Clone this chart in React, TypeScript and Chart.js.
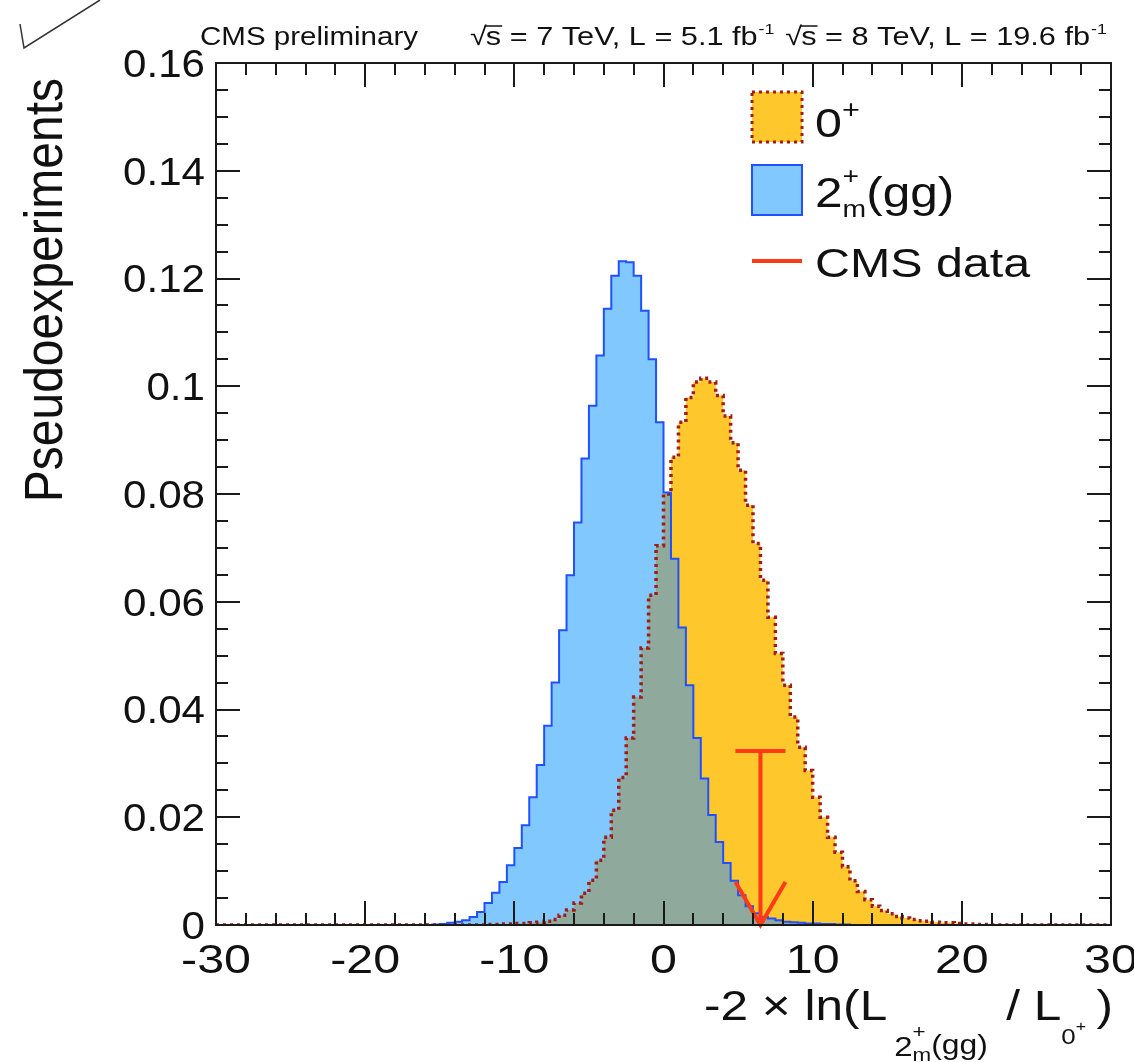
import React, { useEffect, useRef } from "react";
import { Chart, registerables } from "chart.js";

Chart.register(...registerables);

// ---------- data ----------
const X_MIN = -30;
const X_MAX = 30;
const BIN_WIDTH = 0.5; // 120 bins

// 2+m(gg) pseudo-experiment distribution (bin contents, bins from -30 in steps of 0.5)
const spin2Values = [
  0, 0, 0, 0, 0, 0, 0, 0, 0, 0,
  0, 0, 0, 0, 0, 0, 0, 0, 0, 0,
  0, 0, 0, 0, 0, 0, 0, 0, 0, 0.0001,
  0.0002, 0.0004, 0.0006, 0.0009, 0.0015, 0.0024, 0.0041, 0.006, 0.008, 0.0111,
  0.0143, 0.0185, 0.0237, 0.0297, 0.037, 0.045, 0.0547, 0.0649, 0.0747, 0.0866,
  0.0964, 0.1057, 0.1144, 0.1205, 0.1232, 0.123, 0.1205, 0.114, 0.105, 0.0933,
  0.0803, 0.068, 0.0552, 0.0445, 0.0347, 0.0272, 0.0204, 0.0154, 0.0115, 0.0082,
  0.0055, 0.0035, 0.0022, 0.0015, 0.0012, 0.0009, 0.0006, 0.0005, 0.0004, 0.0003,
  0.0003, 0.0002, 0.0002, 0.0001, 0.0001, 0, 0, 0, 0, 0,
  0, 0, 0, 0, 0, 0, 0, 0, 0, 0,
  0, 0, 0, 0, 0, 0, 0, 0, 0, 0,
  0, 0, 0, 0, 0, 0, 0, 0, 0, 0,
];

// 0+ pseudo-experiment distribution
const spin0Values = [
  0, 0, 0, 0, 0, 0, 0, 0, 0, 0,
  0, 0, 0, 0, 0, 0, 0, 0, 0, 0,
  0, 0, 0, 0, 0, 0, 0, 0, 0, 0,
  0, 0, 0, 0, 0, 0, 0.0001, 0.0001, 0.0002, 0.0002,
  0.0003, 0.0003, 0.0004, 0.0005, 0.0007, 0.001, 0.0018, 0.0028, 0.0041, 0.0059,
  0.0083, 0.012, 0.0163, 0.0213, 0.0274, 0.0347, 0.0423, 0.0514, 0.0612, 0.0704,
  0.08, 0.0868, 0.0933, 0.0979, 0.1008, 0.1015, 0.1008, 0.0983, 0.0945, 0.0895,
  0.0844, 0.0779, 0.0708, 0.064, 0.0571, 0.0504, 0.0445, 0.0386, 0.033, 0.0287,
  0.0237, 0.02, 0.0163, 0.0135, 0.0108, 0.0082, 0.0062, 0.0047, 0.0035, 0.0027,
  0.0021, 0.0016, 0.0013, 0.001, 0.0008, 0.0007, 0.0005, 0.0004, 0.0004, 0.0003,
  0.0002, 0.0002, 0.0001, 0.0001, 0, 0, 0, 0, 0, 0,
  0, 0, 0, 0, 0, 0, 0, 0, 0, 0,
];

// observed CMS data value and arrow height
const cmsDataX = [6.5];
const cmsArrowTop = [0.0323];

const xTickLabels = ["-30", "-20", "-10", "0", "10", "20", "30"];
const xTickValues = [-30, -20, -10, 0, 10, 20, 30];
const yTickLabels = ["0", "0.02", "0.04", "0.06", "0.08", "0.1", "0.12", "0.14", "0.16"];
const yTickValues = [0, 0.02, 0.04, 0.06, 0.08, 0.1, 0.12, 0.14, 0.16];
const X_MINOR_STEP = 2;
const Y_MINOR_STEP = 0.005;

const headerLeft = "CMS preliminary";
const headerRuns = [
  { e: "7", lumi: "5.1" },
  { e: "8", lumi: "19.6" },
];

// ---------- style ----------
const FONT = '"Liberation Sans", Arial, Helvetica, sans-serif';
const SX = 1.18;
const ORANGE_FILL = "rgb(254,199,44)";
const DOT_RED = "rgb(160,28,20)";
const BLUE_FILL = "rgb(128,200,253)";
const BLUE_LINE = "rgb(32,80,255)";
const OVERLAP_FILL = "rgb(143,170,156)";
const DATA_RED = "rgb(255,58,24)";
const AXIS = "#1a1a1a";

function histPoints(vals: number[]) {
  const pts = vals.map((v, i) => ({ x: X_MIN + i * BIN_WIDTH, y: v }));
  pts.push({ x: X_MAX, y: vals[vals.length - 1] });
  return pts;
}

function txt(
  ctx: CanvasRenderingContext2D,
  s: string,
  x: number,
  y: number,
  size: number,
  align: CanvasTextAlign = "left",
  baseline: CanvasTextBaseline = "alphabetic",
  sx: number = SX
) {
  ctx.save();
  ctx.translate(x, y);
  ctx.scale(sx, 1);
  ctx.font = `${size}px ${FONT}`;
  ctx.textAlign = align;
  ctx.textBaseline = baseline;
  ctx.fillText(s, 0, 0);
  const w = ctx.measureText(s).width * sx;
  ctx.restore();
  return w;
}

function measure(ctx: CanvasRenderingContext2D, s: string, size: number) {
  ctx.save();
  ctx.font = `${size}px ${FONT}`;
  const w = ctx.measureText(s).width * SX;
  ctx.restore();
  return w;
}

const decor = {
  id: "decor",
  afterDraw(chart: any) {
    const { ctx, chartArea: a, scales } = chart;
    const xs = scales.x;
    const ys = scales.y;
    ctx.save();

    // top-left stray stroke
    ctx.strokeStyle = "#333";
    ctx.lineWidth = 1.5;
    ctx.beginPath();
    ctx.moveTo(20, 24);
    ctx.lineTo(24, 48);
    ctx.lineTo(100, 0);
    ctx.stroke();

    // CMS data arrow
    const ax = xs.getPixelForValue(cmsDataX[0]);
    const aTop = ys.getPixelForValue(cmsArrowTop[0]);
    const aBot = ys.getPixelForValue(0);
    ctx.strokeStyle = DATA_RED;
    ctx.lineWidth = 4;
    ctx.beginPath();
    ctx.moveTo(ax - 25, aTop);
    ctx.lineTo(ax + 25, aTop);
    ctx.moveTo(ax, aTop);
    ctx.lineTo(ax, aBot);
    ctx.moveTo(ax - 25, aBot - 43);
    ctx.lineTo(ax, aBot);
    ctx.lineTo(ax + 25, aBot - 43);
    ctx.stroke();

    // frame
    ctx.strokeStyle = AXIS;
    ctx.lineWidth = 2;
    ctx.strokeRect(a.left, a.top, a.right - a.left, a.bottom - a.top);

    // ticks
    ctx.lineWidth = 2;
    ctx.beginPath();
    for (let v = X_MIN; v <= X_MAX + 1e-9; v += X_MINOR_STEP) {
      const px = Math.round(xs.getPixelForValue(v));
      const major = Math.abs(v % 10) < 1e-9;
      const len = major ? 24 : 12;
      ctx.moveTo(px, a.bottom);
      ctx.lineTo(px, a.bottom - len);
      ctx.moveTo(px, a.top);
      ctx.lineTo(px, a.top + len);
    }
    for (let i = 0; i <= 32; i++) {
      const v = i * Y_MINOR_STEP;
      const py = Math.round(ys.getPixelForValue(v));
      const major = i % 4 === 0;
      const len = major ? 24 : 12;
      ctx.moveTo(a.left, py);
      ctx.lineTo(a.left + len, py);
      ctx.moveTo(a.right, py);
      ctx.lineTo(a.right - len, py);
    }
    ctx.stroke();

    ctx.fillStyle = "#111";
    // tick labels
    xTickValues.forEach((v, i) => {
      txt(ctx, xTickLabels[i], xs.getPixelForValue(v), 941, 41, "center", "top");
    });
    yTickValues.forEach((v, i) => {
      txt(ctx, yTickLabels[i], 205, ys.getPixelForValue(v) + 3, 39, "right", "middle", 1.08);
    });

    // y title
    ctx.save();
    ctx.translate(62, 78);
    ctx.scale(1.12, 1);
    ctx.rotate(-Math.PI / 2);
    ctx.font = `48px ${FONT}`;
    ctx.textAlign = "right";
    ctx.textBaseline = "alphabetic";
    ctx.fillText("Pseudoexperiments", 0, 0);
    ctx.restore();

    // x title: -2 × ln(L_{2^{+}_{m}(gg)} / L_{0^{+}})
    let cx = 704;
    const base = 1020;
    cx += txt(ctx, "-2 \u00d7 ln(L", cx, base, 42);
    cx += 7;
    const c2 = cx;
    cx += txt(ctx, "2", cx, 1056, 28);
    txt(ctx, "+", cx, 1038, 19);
    txt(ctx, "m", cx, 1061, 19);
    cx += measure(ctx, "m", 19);
    cx += txt(ctx, "(gg)", cx, 1054, 27);
    cx = Math.max(cx + 14, c2 + 112);
    cx += txt(ctx, "/ L", cx, base, 42);
    cx += txt(ctx, "0", cx, 1044, 22);
    cx += txt(ctx, "+", cx, 1031, 15);
    txt(ctx, ")", 1113, base, 42, "right");

    // header
    txt(ctx, headerLeft, 200, 45, 25);
    let hx = 470;
    headerRuns.forEach((r) => {
      const rootW = txt(ctx, "\u221a", hx, 45, 26);
      const sW = txt(ctx, "s", hx + rootW - 1, 45, 26);
      ctx.strokeStyle = "#111";
      ctx.lineWidth = 1.5;
      ctx.beginPath();
      ctx.moveTo(hx + rootW - 2, 26);
      ctx.lineTo(hx + rootW + sW, 26);
      ctx.stroke();
      hx += rootW + sW - 1;
      hx += txt(ctx, ` = ${r.e} TeV, L = ${r.lumi} fb`, hx, 45, 26);
      hx += txt(ctx, "-1", hx + 1, 34, 15) + 12;
    });

    // legend
    // 0+
    ctx.fillStyle = ORANGE_FILL;
    ctx.fillRect(752, 92, 50, 50);
    ctx.strokeStyle = DOT_RED;
    ctx.lineWidth = 3;
    ctx.setLineDash([3, 4]);
    ctx.strokeRect(752, 92, 50, 50);
    ctx.setLineDash([]);
    // 2+m(gg)
    ctx.fillStyle = BLUE_FILL;
    ctx.fillRect(752, 165, 50, 50);
    ctx.strokeStyle = BLUE_LINE;
    ctx.lineWidth = 2;
    ctx.strokeRect(752, 165, 50, 50);
    // CMS data
    ctx.strokeStyle = DATA_RED;
    ctx.lineWidth = 4;
    ctx.beginPath();
    ctx.moveTo(752, 261);
    ctx.lineTo(802, 261);
    ctx.stroke();

    ctx.fillStyle = "#111";
    let lx = 815;
    lx += txt(ctx, "0", lx, 137, 41);
    txt(ctx, "+", lx, 118, 26);
    lx = 815;
    lx += txt(ctx, "2", lx, 207, 42);
    txt(ctx, "+", lx, 184, 24);
    lx += txt(ctx, "m", lx, 217, 24);
    txt(ctx, "(gg)", lx, 207, 42);
    txt(ctx, "CMS data", 815, 277, 41);

    ctx.restore();
  },
};

export default function App() {
  const ref = useRef<HTMLCanvasElement | null>(null);
  useEffect(() => {
    if (!ref.current) return;
    const overlap = spin2Values.map((v, i) => Math.min(v, spin0Values[i]));
    const chart = new Chart(ref.current, {
      type: "line",
      data: {
        datasets: [
          {
            label: "overlap",
            data: histPoints(overlap),
            stepped: true,
            fill: "origin",
            backgroundColor: OVERLAP_FILL,
            borderColor: "rgba(0,0,0,0)",
            borderWidth: 0,
            pointRadius: 0,
          },
          {
            label: "2+m(gg)",
            data: histPoints(spin2Values),
            stepped: true,
            fill: "origin",
            backgroundColor: BLUE_FILL,
            borderColor: BLUE_LINE,
            borderWidth: 2,
            pointRadius: 0,
          },
          {
            label: "0+",
            data: histPoints(spin0Values),
            stepped: true,
            fill: "origin",
            backgroundColor: ORANGE_FILL,
            borderColor: DOT_RED,
            borderWidth: 3.5,
            borderDash: [3, 4],
            pointRadius: 0,
          },
        ],
      } as any,
      options: {
        animation: false,
        responsive: false,
        devicePixelRatio: 1,
        layout: { padding: { left: 216, top: 63, right: 23, bottom: 137 } },
        scales: {
          x: { type: "linear", min: X_MIN, max: X_MAX, display: false },
          y: { type: "linear", min: 0, max: 0.16, display: false },
        },
        plugins: {
          legend: { display: false },
          tooltip: { enabled: false },
          filler: { drawTime: "beforeDatasetsDraw" },
        } as any,
      },
      plugins: [decor],
    });
    return () => chart.destroy();
  }, []);
  return (
    <div style={{ position: "absolute", left: 0, top: 0, width: 1134, height: 1062, background: "#fff" }}>
      <canvas ref={ref} width={1134} height={1062} style={{ width: 1134, height: 1062, display: "block" }} />
    </div>
  );
}
